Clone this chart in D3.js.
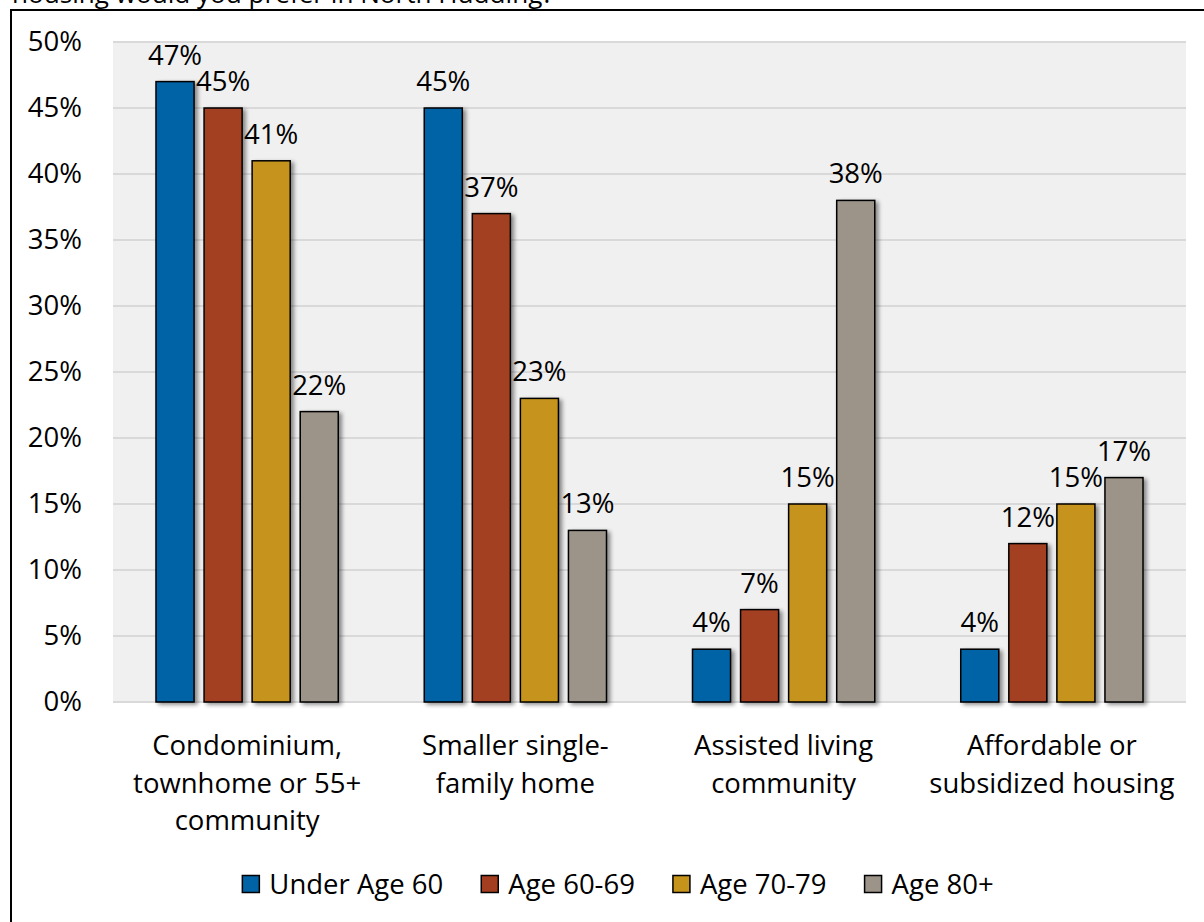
<!DOCTYPE html>
<html>
<head>
<meta charset="utf-8">
<script src="https://cdn.jsdelivr.net/npm/d3@7"></script>
<style>
  html, body { margin: 0; padding: 0; background: #ffffff; }
  svg { display: block; }
  text { font-family: "Open Sans", "Noto Sans", sans-serif; fill: #000; }
</style>
</head>
<body>
<svg id="chart" width="1204" height="922"></svg>
<script>
// Housing preference by age group
const categories = [
  ["Condominium,", "townhome or 55+", "community"],
  ["Smaller single-", "family home"],
  ["Assisted living", "community"],
  ["Affordable or", "subsidized housing"]
];
const seriesNames = ["Under Age 60", "Age 60-69", "Age 70-79", "Age 80+"];
const underAge60 = [47, 45, 4, 4];
const age60to69 = [45, 37, 7, 12];
const age70to79 = [41, 23, 15, 15];
const age80plus = [22, 13, 38, 17];
const seriesValues = [underAge60, age60to69, age70to79, age80plus];
const yTicks = [0, 5, 10, 15, 20, 25, 30, 35, 40, 45, 50];
const colors = ["#0063a5", "#a33f20", "#c6931b", "#9c9389"];
const questionTail = "housing would you prefer in North Hudding?";

const svg = d3.select("#chart");
const fontSize = 27.5;

// Outer frame (runs off the right and bottom edges)
svg.append("rect")
  .attr("x", 11).attr("y", 10)
  .attr("width", 1300).attr("height", 1100)
  .attr("fill", "none").attr("stroke", "#000").attr("stroke-width", 2);

// Question text, mostly above the visible area
svg.append("text")
  .attr("x", 12).attr("y", 3)
  .attr("font-size", fontSize * 0.95)
  .text(questionTail);

const plot = { left: 113, right: 1186, top: 42, bottom: 702 };

const y = d3.scaleLinear().domain([0, 50]).range([plot.bottom, plot.top]);
const x0 = d3.scaleBand().domain(d3.range(categories.length))
  .range([plot.left, plot.right]).padding(0);
const groupPad = 43;
const x1 = d3.scaleBand().domain(d3.range(seriesNames.length))
  .range([groupPad, x0.bandwidth() - groupPad]).paddingInner(10 / 48);

// Plot background
svg.append("rect")
  .attr("x", plot.left).attr("y", plot.top)
  .attr("width", plot.right - plot.left).attr("height", plot.bottom - plot.top)
  .attr("fill", "#f0f0f0");

// Gridlines
svg.append("g").selectAll("line").data(yTicks).join("line")
  .attr("x1", plot.left).attr("x2", plot.right)
  .attr("y1", d => y(d)).attr("y2", d => y(d))
  .attr("stroke", "#d9d9d9").attr("stroke-width", 2);

// Y axis labels
const yAxis = d3.axisLeft(y).tickValues(yTicks).tickFormat(d => d + "%").tickSize(0).tickPadding(0);
const yg = svg.append("g").attr("transform", `translate(82,0)`).call(yAxis);
yg.select(".domain").remove();
yg.selectAll("text")
  .attr("font-size", fontSize)
  .attr("font-family", "'Open Sans', 'Noto Sans', sans-serif")
  .attr("fill", "#000");

// Shadow for bars
const defs = svg.append("defs");
const f = defs.append("filter").attr("id", "shadow")
  .attr("x", "-30%").attr("y", "-10%").attr("width", "160%").attr("height", "130%");
f.append("feGaussianBlur").attr("in", "SourceAlpha").attr("stdDeviation", 2).attr("result", "b");
f.append("feOffset").attr("in", "b").attr("dx", 3).attr("dy", 2).attr("result", "o");
f.append("feComponentTransfer").attr("in", "o").attr("result", "s")
  .append("feFuncA").attr("type", "linear").attr("slope", 0.45);
const m = f.append("feMerge");
m.append("feMergeNode").attr("in", "s");
m.append("feMergeNode").attr("in", "SourceGraphic");

// Bars
const groups = svg.append("g").selectAll("g")
  .data(categories.map((c, i) => i)).join("g")
  .attr("transform", i => `translate(${x0(i)},0)`);

groups.selectAll("rect")
  .data(i => seriesValues.map((vals, s) => ({ s, v: vals[i] })))
  .join("rect")
  .attr("x", d => x1(d.s))
  .attr("y", d => y(d.v))
  .attr("width", x1.bandwidth())
  .attr("height", d => y(0) - y(d.v))
  .attr("fill", d => colors[d.s])
  .attr("stroke", "#000").attr("stroke-width", 1.5)
  .attr("filter", "url(#shadow)");

// Value labels
groups.selectAll("text.val")
  .data(i => seriesValues.map((vals, s) => ({ s, v: vals[i] })))
  .join("text")
  .attr("class", "val")
  .attr("x", d => x1(d.s) + x1.bandwidth() / 2)
  .attr("y", d => y(d.v) - 17)
  .attr("text-anchor", "middle")
  .attr("font-size", fontSize)
  .text(d => d.v + "%");

// Category labels
const catG = svg.append("g");
categories.forEach((lines, i) => {
  const t = catG.append("text")
    .attr("x", x0(i) + x0.bandwidth() / 2)
    .attr("y", 755)
    .attr("text-anchor", "middle")
    .attr("font-size", fontSize);
  lines.forEach((ln, k) => {
    t.append("tspan")
      .attr("x", x0(i) + x0.bandwidth() / 2)
      .attr("dy", k === 0 ? 0 : 37.5)
      .text(ln);
  });
});

// Legend
const legend = svg.append("g");
const sq = 17, textGap = 10, itemGap = 38;
const items = [];
seriesNames.forEach((name, s) => {
  const g = legend.append("g");
  g.append("rect")
    .attr("x", 0).attr("y", -sq / 2)
    .attr("width", sq).attr("height", sq)
    .attr("fill", colors[s]).attr("stroke", "#000").attr("stroke-width", 1.5);
  const t = g.append("text")
    .attr("x", sq + textGap).attr("y", 0)
    .attr("dy", "0.35em")
    .attr("font-size", fontSize)
    .text(name);
  const w = sq + textGap + t.node().getComputedTextLength();
  items.push({ g, w });
});
const total = d3.sum(items, d => d.w) + itemGap * (items.length - 1);
let start = 618 - total / 2;
items.forEach(it => {
  it.g.attr("transform", `translate(${start},884)`);
  start += it.w + itemGap;
});
</script>
</body>
</html>
